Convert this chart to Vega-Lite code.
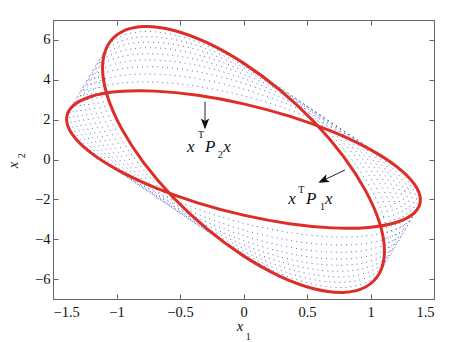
{
"$schema": "https://vega.github.io/schema/vega-lite/v6.json",
"width": 381, "height": 279,
"autosize": {"type": "none"},
"padding": {"left": 53, "top": 20, "right": 24, "bottom": 43},
"background": "white",
"config": {
  "font": "Liberation Serif",
  "view": {"stroke": "#666", "strokeWidth": 1},
  "axis": {"grid": false, "domain": false, "tickColor": "#666", "tickSize": -5, "tickWidth": 1,
           "labelFont": "Liberation Serif", "labelFontSize": 14.5, "labelColor": "#111", "title": null}
},
"datasets": {
  "red": [
    {"e":0,"i":0,"x":1.110,"y":-4.595},{"e":0,"i":1,"x":1.072,"y":-3.186},{"e":0,"i":2,"x":0.961,"y":-1.561},{"e":0,"i":3,"x":0.785,"y":0.171},
    {"e":0,"i":4,"x":0.555,"y":1.891},{"e":0,"i":5,"x":0.287,"y":3.482},{"e":0,"i":6,"x":0,"y":4.836},{"e":0,"i":7,"x":-0.287,"y":5.861},
    {"e":0,"i":8,"x":-0.555,"y":6.486},{"e":0,"i":9,"x":-0.785,"y":6.669},{"e":0,"i":10,"x":-0.961,"y":6.397},{"e":0,"i":11,"x":-1.072,"y":5.690},
    {"e":0,"i":12,"x":-1.110,"y":4.595},{"e":0,"i":13,"x":-1.072,"y":3.186},{"e":0,"i":14,"x":-0.961,"y":1.561},{"e":0,"i":15,"x":-0.785,"y":-0.171},
    {"e":0,"i":16,"x":-0.555,"y":-1.891},{"e":0,"i":17,"x":-0.287,"y":-3.482},{"e":0,"i":18,"x":0,"y":-4.836},{"e":0,"i":19,"x":0.287,"y":-5.861},
    {"e":0,"i":20,"x":0.555,"y":-6.486},{"e":0,"i":21,"x":0.785,"y":-6.669},{"e":0,"i":22,"x":0.961,"y":-6.397},{"e":0,"i":23,"x":1.072,"y":-5.690},
    {"e":10,"i":0,"x":1.393,"y":-2.025},{"e":10,"i":1,"x":1.345,"y":-1.233},{"e":10,"i":2,"x":1.206,"y":-0.357},{"e":10,"i":3,"x":0.985,"y":0.543},
    {"e":10,"i":4,"x":0.696,"y":1.407},{"e":10,"i":5,"x":0.361,"y":2.174},{"e":10,"i":6,"x":0,"y":2.793},{"e":10,"i":7,"x":-0.361,"y":3.222},
    {"e":10,"i":8,"x":-0.696,"y":3.431},{"e":10,"i":9,"x":-0.985,"y":3.407},{"e":10,"i":10,"x":-1.206,"y":3.150},{"e":10,"i":11,"x":-1.345,"y":2.679},
    {"e":10,"i":12,"x":-1.393,"y":2.025},{"e":10,"i":13,"x":-1.345,"y":1.233},{"e":10,"i":14,"x":-1.206,"y":0.357},{"e":10,"i":15,"x":-0.985,"y":-0.543},
    {"e":10,"i":16,"x":-0.696,"y":-1.407},{"e":10,"i":17,"x":-0.361,"y":-2.174},{"e":10,"i":18,"x":0,"y":-2.793},{"e":10,"i":19,"x":0.361,"y":-3.222},
    {"e":10,"i":20,"x":0.696,"y":-3.431},{"e":10,"i":21,"x":0.985,"y":-3.407},{"e":10,"i":22,"x":1.206,"y":-3.150},{"e":10,"i":23,"x":1.345,"y":-2.679}
  ],
  "blue": [
    {"e":1,"i":0,"x":1.141,"y":-4.268},{"e":1,"i":1,"x":1.103,"y":-2.881},{"e":1,"i":2,"x":0.989,"y":-1.298},{"e":1,"i":3,"x":0.807,"y":0.375},
    {"e":1,"i":4,"x":0.571,"y":2.021},{"e":1,"i":5,"x":0.295,"y":3.530},{"e":1,"i":6,"x":0,"y":4.798},{"e":1,"i":7,"x":-0.295,"y":5.739},
    {"e":1,"i":8,"x":-0.571,"y":6.289},{"e":1,"i":9,"x":-0.807,"y":6.411},{"e":1,"i":10,"x":-0.989,"y":6.096},{"e":1,"i":11,"x":-1.103,"y":5.365},
    {"e":1,"i":12,"x":-1.141,"y":4.268},{"e":1,"i":13,"x":-1.103,"y":2.881},{"e":1,"i":14,"x":-0.989,"y":1.298},{"e":1,"i":15,"x":-0.807,"y":-0.375},
    {"e":1,"i":16,"x":-0.571,"y":-2.021},{"e":1,"i":17,"x":-0.295,"y":-3.530},{"e":1,"i":18,"x":0,"y":-4.798},{"e":1,"i":19,"x":0.295,"y":-5.739},
    {"e":1,"i":20,"x":0.571,"y":-6.289},{"e":1,"i":21,"x":0.807,"y":-6.411},{"e":1,"i":22,"x":0.989,"y":-6.096},{"e":1,"i":23,"x":1.103,"y":-5.365},

    {"e":2,"i":0,"x":1.172,"y":-3.962},{"e":2,"i":1,"x":1.132,"y":-2.606},{"e":2,"i":2,"x":1.015,"y":-1.071},{"e":2,"i":3,"x":0.829,"y":0.536},
    {"e":2,"i":4,"x":0.586,"y":2.107},{"e":2,"i":5,"x":0.303,"y":3.534},{"e":2,"i":6,"x":0,"y":4.720},{"e":2,"i":7,"x":-0.303,"y":5.585},
    {"e":2,"i":8,"x":-0.586,"y":6.069},{"e":2,"i":9,"x":-0.829,"y":6.140},{"e":2,"i":10,"x":-1.015,"y":5.792},{"e":2,"i":11,"x":-1.132,"y":5.049},
    {"e":2,"i":12,"x":-1.172,"y":3.962},{"e":2,"i":13,"x":-1.132,"y":2.606},{"e":2,"i":14,"x":-1.015,"y":1.071},{"e":2,"i":15,"x":-0.829,"y":-0.536},
    {"e":2,"i":16,"x":-0.586,"y":-2.107},{"e":2,"i":17,"x":-0.303,"y":-3.534},{"e":2,"i":18,"x":0,"y":-4.720},{"e":2,"i":19,"x":0.303,"y":-5.585},
    {"e":2,"i":20,"x":0.586,"y":-6.069},{"e":2,"i":21,"x":0.829,"y":-6.140},{"e":2,"i":22,"x":1.015,"y":-5.792},{"e":2,"i":23,"x":1.132,"y":-5.049},

    {"e":3,"i":0,"x":1.202,"y":-3.674},{"e":3,"i":1,"x":1.161,"y":-2.357},{"e":3,"i":2,"x":1.041,"y":-0.879},{"e":3,"i":3,"x":0.850,"y":0.659},
    {"e":3,"i":4,"x":0.601,"y":2.152},{"e":3,"i":5,"x":0.311,"y":3.499},{"e":3,"i":6,"x":0,"y":4.606},{"e":3,"i":7,"x":-0.311,"y":5.401},
    {"e":3,"i":8,"x":-0.601,"y":5.827},{"e":3,"i":9,"x":-0.850,"y":5.855},{"e":3,"i":10,"x":-1.041,"y":5.485},{"e":3,"i":11,"x":-1.161,"y":4.741},
    {"e":3,"i":12,"x":-1.202,"y":3.674},{"e":3,"i":13,"x":-1.161,"y":2.357},{"e":3,"i":14,"x":-1.041,"y":0.879},{"e":3,"i":15,"x":-0.850,"y":-0.659},
    {"e":3,"i":16,"x":-0.601,"y":-2.152},{"e":3,"i":17,"x":-0.311,"y":-3.499},{"e":3,"i":18,"x":0,"y":-4.606},{"e":3,"i":19,"x":0.311,"y":-5.401},
    {"e":3,"i":20,"x":0.601,"y":-5.827},{"e":3,"i":21,"x":0.850,"y":-5.855},{"e":3,"i":22,"x":1.041,"y":-5.485},{"e":3,"i":23,"x":1.161,"y":-4.741},

    {"e":4,"i":0,"x":1.231,"y":-3.402},{"e":4,"i":1,"x":1.189,"y":-2.132},{"e":4,"i":2,"x":1.066,"y":-0.717},{"e":4,"i":3,"x":0.870,"y":0.747},
    {"e":4,"i":4,"x":0.616,"y":2.161},{"e":4,"i":5,"x":0.319,"y":3.427},{"e":4,"i":6,"x":0,"y":4.459},{"e":4,"i":7,"x":-0.319,"y":5.188},
    {"e":4,"i":8,"x":-0.616,"y":5.563},{"e":4,"i":9,"x":-0.870,"y":5.559},{"e":4,"i":10,"x":-1.066,"y":5.176},{"e":4,"i":11,"x":-1.189,"y":4.441},
    {"e":4,"i":12,"x":-1.231,"y":3.402},{"e":4,"i":13,"x":-1.189,"y":2.132},{"e":4,"i":14,"x":-1.066,"y":0.717},{"e":4,"i":15,"x":-0.870,"y":-0.747},
    {"e":4,"i":16,"x":-0.616,"y":-2.161},{"e":4,"i":17,"x":-0.319,"y":-3.427},{"e":4,"i":18,"x":0,"y":-4.459},{"e":4,"i":19,"x":0.319,"y":-5.188},
    {"e":4,"i":20,"x":0.616,"y":-5.563},{"e":4,"i":21,"x":0.870,"y":-5.559},{"e":4,"i":22,"x":1.066,"y":-5.176},{"e":4,"i":23,"x":1.189,"y":-4.441},

    {"e":5,"i":0,"x":1.259,"y":-3.144},{"e":5,"i":1,"x":1.217,"y":-1.930},{"e":5,"i":2,"x":1.091,"y":-0.583},{"e":5,"i":3,"x":0.891,"y":0.803},
    {"e":5,"i":4,"x":0.630,"y":2.134},{"e":5,"i":5,"x":0.326,"y":3.320},{"e":5,"i":6,"x":0,"y":4.279},{"e":5,"i":7,"x":-0.326,"y":4.947},
    {"e":5,"i":8,"x":-0.630,"y":5.278},{"e":5,"i":9,"x":-0.891,"y":5.249},{"e":5,"i":10,"x":-1.091,"y":4.863},{"e":5,"i":11,"x":-1.217,"y":4.145},
    {"e":5,"i":12,"x":-1.259,"y":3.144},{"e":5,"i":13,"x":-1.217,"y":1.930},{"e":5,"i":14,"x":-1.091,"y":0.583},{"e":5,"i":15,"x":-0.891,"y":-0.803},
    {"e":5,"i":16,"x":-0.630,"y":-2.134},{"e":5,"i":17,"x":-0.326,"y":-3.320},{"e":5,"i":18,"x":0,"y":-4.279},{"e":5,"i":19,"x":0.326,"y":-4.947},
    {"e":5,"i":20,"x":0.630,"y":-5.278},{"e":5,"i":21,"x":0.891,"y":-5.249},{"e":5,"i":22,"x":1.091,"y":-4.863},{"e":5,"i":23,"x":1.217,"y":-4.145},

    {"e":6,"i":0,"x":1.287,"y":-2.899},{"e":6,"i":1,"x":1.243,"y":-1.748},{"e":6,"i":2,"x":1.115,"y":-0.478},{"e":6,"i":3,"x":0.910,"y":0.825},
    {"e":6,"i":4,"x":0.644,"y":2.072},{"e":6,"i":5,"x":0.333,"y":3.177},{"e":6,"i":6,"x":0,"y":4.066},{"e":6,"i":7,"x":-0.333,"y":4.678},
    {"e":6,"i":8,"x":-0.644,"y":4.971},{"e":6,"i":9,"x":-0.910,"y":4.925},{"e":6,"i":10,"x":-1.115,"y":4.544},{"e":6,"i":11,"x":-1.243,"y":3.853},
    {"e":6,"i":12,"x":-1.287,"y":2.899},{"e":6,"i":13,"x":-1.243,"y":1.748},{"e":6,"i":14,"x":-1.115,"y":0.478},{"e":6,"i":15,"x":-0.910,"y":-0.825},
    {"e":6,"i":16,"x":-0.644,"y":-2.072},{"e":6,"i":17,"x":-0.333,"y":-3.177},{"e":6,"i":18,"x":0,"y":-4.066},{"e":6,"i":19,"x":0.333,"y":-4.678},
    {"e":6,"i":20,"x":0.644,"y":-4.971},{"e":6,"i":21,"x":0.910,"y":-4.925},{"e":6,"i":22,"x":1.115,"y":-4.544},{"e":6,"i":23,"x":1.243,"y":-3.853},

    {"e":7,"i":0,"x":1.314,"y":-2.666},{"e":7,"i":1,"x":1.270,"y":-1.587},{"e":7,"i":2,"x":1.138,"y":-0.400},{"e":7,"i":3,"x":0.929,"y":0.814},
    {"e":7,"i":4,"x":0.657,"y":1.973},{"e":7,"i":5,"x":0.340,"y":2.997},{"e":7,"i":6,"x":0,"y":3.818},{"e":7,"i":7,"x":-0.340,"y":4.377},
    {"e":7,"i":8,"x":-0.657,"y":4.639},{"e":7,"i":9,"x":-0.929,"y":4.584},{"e":7,"i":10,"x":-1.138,"y":4.218},{"e":7,"i":11,"x":-1.270,"y":3.563},
    {"e":7,"i":12,"x":-1.314,"y":2.666},{"e":7,"i":13,"x":-1.270,"y":1.587},{"e":7,"i":14,"x":-1.138,"y":0.400},{"e":7,"i":15,"x":-0.929,"y":-0.814},
    {"e":7,"i":16,"x":-0.657,"y":-1.973},{"e":7,"i":17,"x":-0.340,"y":-2.997},{"e":7,"i":18,"x":0,"y":-3.818},{"e":7,"i":19,"x":0.340,"y":-4.377},
    {"e":7,"i":20,"x":0.657,"y":-4.639},{"e":7,"i":21,"x":0.929,"y":-4.584},{"e":7,"i":22,"x":1.138,"y":-4.218},{"e":7,"i":23,"x":1.270,"y":-3.563},

    {"e":8,"i":0,"x":1.341,"y":-2.443},{"e":8,"i":1,"x":1.295,"y":-1.446},{"e":8,"i":2,"x":1.161,"y":-0.351},{"e":8,"i":3,"x":0.948,"y":0.768},
    {"e":8,"i":4,"x":0.671,"y":1.835},{"e":8,"i":5,"x":0.347,"y":2.776},{"e":8,"i":6,"x":0,"y":3.529},{"e":8,"i":7,"x":-0.347,"y":4.041},
    {"e":8,"i":8,"x":-0.671,"y":4.278},{"e":8,"i":9,"x":-0.948,"y":4.223},{"e":8,"i":10,"x":-1.161,"y":3.880},{"e":8,"i":11,"x":-1.295,"y":3.273},
    {"e":8,"i":12,"x":-1.341,"y":2.443},{"e":8,"i":13,"x":-1.295,"y":1.446},{"e":8,"i":14,"x":-1.161,"y":0.351},{"e":8,"i":15,"x":-0.948,"y":-0.768},
    {"e":8,"i":16,"x":-0.671,"y":-1.835},{"e":8,"i":17,"x":-0.347,"y":-2.776},{"e":8,"i":18,"x":0,"y":-3.529},{"e":8,"i":19,"x":0.347,"y":-4.041},
    {"e":8,"i":20,"x":0.671,"y":-4.278},{"e":8,"i":21,"x":0.948,"y":-4.223},{"e":8,"i":22,"x":1.161,"y":-3.880},{"e":8,"i":23,"x":1.295,"y":-3.273},

    {"e":9,"i":0,"x":1.367,"y":-2.229},{"e":9,"i":1,"x":1.321,"y":-1.327},{"e":9,"i":2,"x":1.184,"y":-0.335},{"e":9,"i":3,"x":0.967,"y":0.681},
    {"e":9,"i":4,"x":0.684,"y":1.650},{"e":9,"i":5,"x":0.354,"y":2.506},{"e":9,"i":6,"x":0,"y":3.192},{"e":9,"i":7,"x":-0.354,"y":3.660},
    {"e":9,"i":8,"x":-0.684,"y":3.879},{"e":9,"i":9,"x":-0.967,"y":3.834},{"e":9,"i":10,"x":-1.184,"y":3.527},{"e":9,"i":11,"x":-1.321,"y":2.980},
    {"e":9,"i":12,"x":-1.367,"y":2.229},{"e":9,"i":13,"x":-1.321,"y":1.327},{"e":9,"i":14,"x":-1.184,"y":0.335},{"e":9,"i":15,"x":-0.967,"y":-0.681},
    {"e":9,"i":16,"x":-0.684,"y":-1.650},{"e":9,"i":17,"x":-0.354,"y":-2.506},{"e":9,"i":18,"x":0,"y":-3.192},{"e":9,"i":19,"x":0.354,"y":-3.660},
    {"e":9,"i":20,"x":0.684,"y":-3.879},{"e":9,"i":21,"x":0.967,"y":-3.834},{"e":9,"i":22,"x":1.184,"y":-3.527},{"e":9,"i":23,"x":1.321,"y":-2.980}
  ],
  "arrows": [
    {"x":-0.303,"y":2.90,"x2":-0.303,"y2":1.60},
    {"x":0.799,"y":-0.527,"x2":0.620,"y2":-1.07}
  ],
  "big": [
    {"x":-0.445,"y":0.376,"s":"x"},{"x":-0.303,"y":0.376,"s":"P"},{"x":-0.159,"y":0.376,"s":"x"},
    {"x":0.353,"y":-2.208,"s":"x"},{"x":0.492,"y":-2.208,"s":"P"},{"x":0.642,"y":-2.208,"s":"x"}
  ],
  "small": [
    {"x":-0.358,"y":1.054,"s":"T"},{"x":-0.203,"y":0.060,"s":"2"},
    {"x":0.431,"y":-1.656,"s":"T"},{"x":0.602,"y":-2.534,"s":"1"},
    {"x":0.017,"y":-9.05,"s":"1"}
  ],
  "axt": [{"x":-0.054,"y":-8.62,"s":"x"}],
  "axtr": [{"x":-1.773,"y":-0.44,"s":"x"}],
  "axtr2": [{"x":-1.720,"y":0.06,"s":"2"}],
  "head1": [{"x":-0.303,"y":1.515}],
  "head2": [{"x":0.589,"y":-1.164}]
},
"layer": [
  {
    "data": {"name": "blue"},
    "mark": {"type": "line", "interpolate": "cardinal-closed", "stroke": "#3d4fc8", "strokeWidth": 1, "strokeDash": [1, 4], "opacity": 0.85},
    "encoding": {
      "x": {"field": "x", "type": "quantitative", "scale": {"domain": [-1.5, 1.5], "nice": false, "zero": false},
            "axis": {"orient": "bottom", "values": [-1.5, -1, -0.5, 0, 0.5, 1, 1.5], "format": "~g", "labelPadding": 11.5}},
      "y": {"field": "y", "type": "quantitative", "scale": {"domain": [-7, 7], "nice": false, "zero": false},
            "axis": {"orient": "left", "values": [-6, -4, -2, 0, 2, 4, 6], "format": "~g", "labelPadding": 8}},
      "detail": {"field": "e", "type": "nominal"},
      "order": {"field": "i", "type": "quantitative"}
    }
  },
  {
    "data": {"name": "red"},
    "mark": {"type": "line", "interpolate": "cardinal-closed", "stroke": "#de2d26", "strokeWidth": 3},
    "encoding": {
      "x": {"field": "x", "type": "quantitative", "axis": {"orient": "top", "values": [-1.5, -1, -0.5, 0, 0.5, 1, 1.5], "labels": false}},
      "y": {"field": "y", "type": "quantitative", "axis": {"orient": "right", "values": [-6, -4, -2, 0, 2, 4, 6], "labels": false}},
      "detail": {"field": "e", "type": "nominal"},
      "order": {"field": "i", "type": "quantitative"}
    }
  },
  {
    "data": {"name": "arrows"},
    "mark": {"type": "rule", "stroke": "#222", "strokeWidth": 1},
    "encoding": {
      "x": {"field": "x", "type": "quantitative", "axis": null},
      "y": {"field": "y", "type": "quantitative", "axis": null},
      "x2": {"field": "x2"},
      "y2": {"field": "y2"}
    }
  },
  {
    "data": {"name": "head1"},
    "mark": {"type": "point", "shape": "M0,0 L0.7,1.8 L0,1.4 L-0.7,1.8 Z", "size": 144, "filled": true, "color": "#111", "opacity": 1, "angle": 180},
    "encoding": {
      "x": {"field": "x", "type": "quantitative", "axis": null},
      "y": {"field": "y", "type": "quantitative", "axis": null}
    }
  },
  {
    "data": {"name": "head2"},
    "mark": {"type": "point", "shape": "M0,0 L0.7,1.8 L0,1.4 L-0.7,1.8 Z", "size": 144, "filled": true, "color": "#111", "opacity": 1, "angle": 245},
    "encoding": {
      "x": {"field": "x", "type": "quantitative", "axis": null},
      "y": {"field": "y", "type": "quantitative", "axis": null}
    }
  },
  {
    "data": {"name": "big"},
    "mark": {"type": "text", "font": "Liberation Serif", "fontStyle": "italic", "fontSize": 17, "align": "left", "baseline": "alphabetic", "color": "#111"},
    "encoding": {
      "x": {"field": "x", "type": "quantitative", "axis": null},
      "y": {"field": "y", "type": "quantitative", "axis": null},
      "text": {"field": "s"}
    }
  },
  {
    "data": {"name": "small"},
    "mark": {"type": "text", "font": "Liberation Serif", "fontSize": 10, "align": "left", "baseline": "alphabetic", "color": "#111"},
    "encoding": {
      "x": {"field": "x", "type": "quantitative", "axis": null},
      "y": {"field": "y", "type": "quantitative", "axis": null},
      "text": {"field": "s"}
    }
  },
  {
    "data": {"name": "axt"},
    "mark": {"type": "text", "font": "Liberation Serif", "fontStyle": "italic", "fontSize": 14.5, "align": "left", "baseline": "alphabetic", "color": "#111"},
    "encoding": {
      "x": {"field": "x", "type": "quantitative", "axis": null},
      "y": {"field": "y", "type": "quantitative", "axis": null},
      "text": {"field": "s"}
    }
  },
  {
    "data": {"name": "axtr"},
    "mark": {"type": "text", "font": "Liberation Serif", "fontStyle": "italic", "fontSize": 14.5, "align": "left", "baseline": "alphabetic", "color": "#111", "angle": 270},
    "encoding": {
      "x": {"field": "x", "type": "quantitative", "axis": null},
      "y": {"field": "y", "type": "quantitative", "axis": null},
      "text": {"field": "s"}
    }
  },
  {
    "data": {"name": "axtr2"},
    "mark": {"type": "text", "font": "Liberation Serif", "fontSize": 10, "align": "left", "baseline": "alphabetic", "color": "#111", "angle": 270},
    "encoding": {
      "x": {"field": "x", "type": "quantitative", "axis": null},
      "y": {"field": "y", "type": "quantitative", "axis": null},
      "text": {"field": "s"}
    }
  }
]
}
